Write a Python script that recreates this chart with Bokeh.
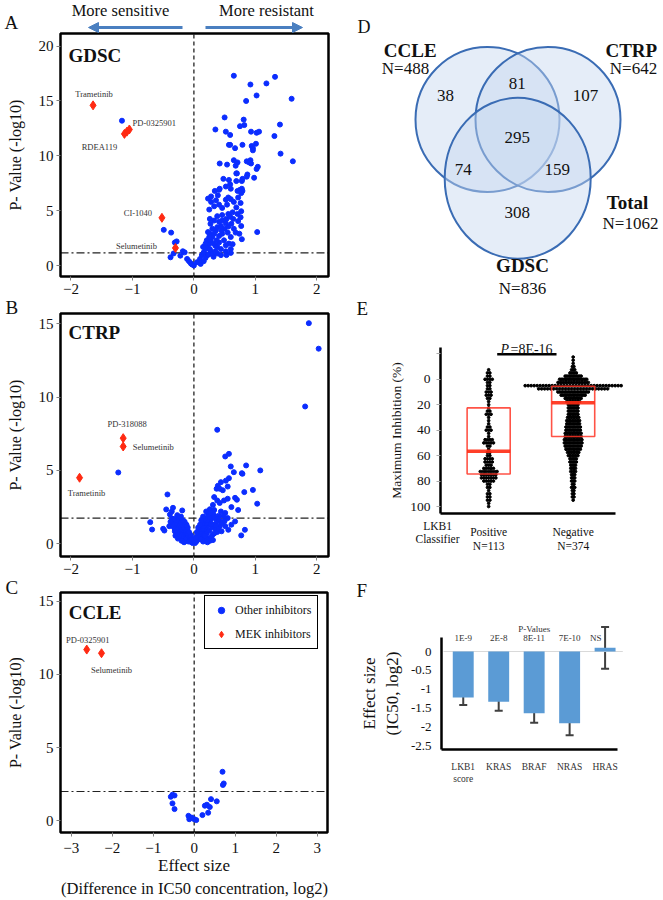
from bokeh.plotting import figure
from bokeh.layouts import row, column
from bokeh.models import (Range1d, Label, Arrow, NormalHead, FixedTicker, Legend, LegendItem,
                          ColumnDataSource, Whisker, TeeHead, PrintfTickFormatter)
from bokeh.core.properties import value
from bokeh.embed import file_html
from bokeh.resources import INLINE

# ------------------------------------------------------------------ data
# Panel A : GDSC volcano (effect size, -log10 p)
gdsc_other_x = [0.65, 1.32, 0.92, 1.18, 1.02, 0.85, 1.59, 0.50, 0.81, 0.75, 0.82, 0.35, 0.52, 0.59, 0.93,
                1.02, 1.06, 1.40, 1.31, 0.57, 0.59, 0.67, 0.79, 0.94, 1.01, 0.96, 0.96, 1.41, 1.61, 0.42,
                0.54, 0.65, 0.71, 0.68, 0.86, 0.92, 0.90, 0.93, 1.04, 1.02, 0.69, 0.70, 0.87, 0.86, 0.98,
                0.48, 0.57, 0.69, 0.78, 0.79, 0.59, 0.52, 0.42, 0.41, 0.34, 0.39, 0.60, 0.75, 0.78, 0.79,
                0.71, 0.28, 0.23, 0.56, 0.72, 0.77,
                -1.17, -0.49, -0.37, -0.31, -0.28, -0.33, -0.38, -0.18, -0.15, -0.22, -0.11, -0.08, -0.05,
                -0.03, 0.00,
                0.05, 0.10, 0.13, 0.16, 0.19, 0.15, 0.22, 0.25, 0.21, 0.27, 0.30, 0.26, 0.33, 0.36, 0.30,
                0.38, 0.44, 0.41, 0.46, 0.33, 0.26, 0.38, 0.46, 0.53, 0.56, 0.63, 0.71, 0.76, 0.72, 0.77,
                0.74, 0.78, 0.55, 0.60, 0.57, 0.63, 0.49, 0.41, 0.35, 0.44, 0.52, 0.60, 0.27, 0.22, 0.32,
                0.38, 1.03, 0.25, 0.33, 0.28, 0.36, 0.41, 0.46, 0.54, 0.52, 0.60, 0.65, 0.76, 0.77, 0.69,
                0.16, 0.11, 0.19, 0.24, 0.30, 0.35, 0.26, 0.38, 0.32, 0.37, 0.41, 0.46, 0.50, 0.45, 0.56,
                0.61, 0.65, 0.68, 0.64, 0.59, 0.52, 0.27, 0.23, 0.25, 0.19, 0.52, 0.44, 0.53, 0.60]
gdsc_other_y = [17.3, 17.2, 16.5, 16.6, 15.5, 15.0, 15.2, 13.5, 13.3, 12.7, 12.8, 12.4, 12.2, 11.9, 12.2,
                12.1, 12.2, 12.85, 11.8, 11.0, 11.0, 10.7, 11.0, 10.9, 11.1, 10.7, 10.5, 10.2, 9.5, 9.3,
                9.2, 9.6, 9.4, 9.1, 9.5, 9.6, 9.4, 9.3, 9.0, 8.8, 8.4, 8.4, 8.3, 8.1, 8.0,
                7.9, 7.8, 7.7, 7.7, 7.9, 7.4, 7.2, 7.0, 6.9, 6.8, 6.4, 7.0, 6.9, 7.0, 6.8,
                6.8, 6.3, 6.1, 6.2, 6.2, 6.6,
                13.2, 3.25, 3.0, 2.1, 2.2, 1.1, 0.75, 1.3, 1.2, 0.9, 0.6, 0.4, 0.2,
                0.1, 0.0,
                0.3, 0.6, 0.95, 1.2, 1.5, 1.7, 1.8, 2.0, 2.3, 2.3, 2.6, 2.9, 2.9, 3.2, 3.35,
                3.5, 3.6, 4.0, 4.1, 4.1, 4.25, 4.5, 4.6, 4.25, 4.7, 4.85, 4.7, 4.4, 4.05, 3.6,
                2.9, 2.4, 3.0, 2.6, 2.0, 1.95, 2.3, 2.1, 1.8, 1.5, 1.3, 1.5, 1.3, 0.95, 0.8,
                1.1, 3.05, 5.1, 5.4, 5.8, 5.95, 5.55, 5.25, 5.55, 6.0, 6.05, 5.8, 5.7, 4.95, 5.3,
                0.4, 0.15, 0.7, 1.0, 1.1, 1.3, 1.5, 1.7, 2.0, 2.3, 2.7, 2.9, 3.35, 3.2, 3.55,
                3.8, 3.35, 3.0, 4.25, 4.45, 3.85, 3.8, 3.05, 2.6, 2.0, 1.85, 0.95, 0.95, 1.15]
gdsc_mek_names = ["Trametinib", "PD-0325901", "", "RDEA119", "CI-1040", "Selumetinib"]
gdsc_mek_x = [-1.64, -1.05, -1.09, -1.13, -0.52, -0.30]
gdsc_mek_y = [14.6, 12.4, 12.2, 12.0, 4.35, 1.6]
gdsc_threshold = 1.15

# Panel B : CTRP volcano
ctrp_other_x = [1.87, 2.03, 1.81, -1.23, 0.38, 0.57, 0.51, 0.85, 0.60, 1.08, 0.65, 0.78, 0.79, 0.57, 0.52,
                0.44, 0.39, 0.37, 0.42, 0.47, 0.55, 0.82, 0.96, 0.33, 0.38, 0.42, 0.49, 0.55, 0.67, 0.70,
                0.61, 0.72, 1.03, 0.31, 0.26, 0.33, 0.44, 0.51, 0.24, 0.30, 0.40,
                -0.43, -0.45, -0.34, -0.19, -0.36, -0.39, -0.27, -0.21, -0.71, -0.68, -0.50, -0.48, -0.40,
                -0.34, -0.31, -0.25, -0.36, 0.83, 0.77, 0.61, 0.56, 0.67, 0.51, 0.44,
                -0.02, -0.04, -0.06, -0.08, -0.10, -0.12, -0.14, -0.16, -0.18, -0.20, -0.22, -0.24, -0.26,
                -0.28, -0.30, -0.07, -0.10, -0.13, -0.16, -0.19, -0.22, -0.12, -0.17, -0.21, -0.25, -0.29,
                -0.33, -0.05, -0.09, -0.15, -0.20, -0.24, -0.27, -0.31, -0.14, -0.11,
                0.02, 0.04, 0.06, 0.08, 0.10, 0.12, 0.14, 0.16, 0.18, 0.20, 0.22, 0.24, 0.26, 0.28, 0.30,
                0.32, 0.07, 0.10, 0.13, 0.16, 0.19, 0.22, 0.25, 0.12, 0.17, 0.21, 0.25, 0.29, 0.33, 0.37,
                0.40, 0.35, 0.30, 0.24, 0.42, 0.46, 0.38, 0.09, 0.14, 0.18, 0.23,
                -0.03, -0.05, -0.08, -0.10, -0.12, -0.15, -0.18, -0.23, -0.28, -0.32, -0.35, -0.38, -0.30,
                -0.26, -0.20, -0.16, 0.03, 0.05, 0.07, 0.10, 0.12, 0.15, 0.20, 0.27, 0.34, 0.36, 0.40,
                0.33, 0.28, 0.20, 0.15, 0.45, 0.50, 0.55, 0.48, 0.28, 0.18, 0.26, 0.31, 0.22]
ctrp_other_y = [15.04, 13.3, 9.36, 4.86, 7.77, 6.13, 5.95, 5.34, 5.27, 5.0, 4.88, 4.81, 4.77, 4.47, 4.3,
                4.2, 3.95, 3.75, 3.75, 3.65, 3.9, 3.52, 3.67, 3.18, 2.95, 2.78, 2.95, 3.07, 3.13, 3.0,
                2.5, 2.3, 2.73, 2.65, 2.35, 2.3, 2.2, 2.1, 2.0, 1.9, 1.9,
                3.36, 2.34, 2.45, 2.27, 2.2, 2.0, 1.95, 1.85, 1.47, 0.97, 1.02, 0.9, 1.2,
                1.45, 1.0, 1.7, 1.7, 0.95, 0.57, 1.3, 0.95, 1.52, 1.2, 1.5,
                0.05, 0.1, 0.2, 0.3, 0.4, 0.5, 0.6, 0.7, 0.8, 0.9, 1.0, 1.1, 1.2,
                1.3, 1.4, 0.5, 0.7, 0.9, 1.1, 1.3, 1.5, 0.2, 0.4, 0.6, 0.8, 1.0,
                1.15, 0.35, 0.15, 0.3, 0.45, 0.55, 0.75, 0.85, 1.3, 1.0,
                0.05, 0.15, 0.25, 0.4, 0.5, 0.6, 0.75, 0.9, 1.0, 1.1, 1.25, 1.4, 1.55, 1.7, 1.85,
                2.0, 0.6, 0.8, 1.0, 1.2, 1.4, 1.6, 1.8, 0.3, 0.5, 0.7, 0.9, 1.1, 1.3, 1.5,
                1.7, 1.0, 0.6, 0.35, 1.2, 1.4, 0.8, 1.0, 1.4, 1.7, 2.0,
                0.3, 0.6, 0.8, 1.1, 1.3, 1.5, 1.6, 1.75, 1.6, 1.7, 1.3, 1.5, 0.55,
                0.35, 0.2, 0.1, 0.45, 0.8, 1.1, 1.3, 1.6, 1.85, 2.2, 2.1, 1.75, 1.25, 1.0,
                0.7, 0.45, 0.3, 0.15, 0.85, 1.55, 1.75, 1.9, 1.35, 0.55, 0.2, 0.25, 0.1]
ctrp_mek_names = ["PD-318088", "Selumetinib", "Trametinib"]
ctrp_mek_x = [-1.15, -1.15, -1.86]
ctrp_mek_y = [7.2, 6.63, 4.5]
ctrp_threshold = 1.75

# Panel C : CCLE volcano
ccle_other_x = [0.69, 0.72, 0.70, -0.57, -0.53, -0.48, -0.53, -0.48, -0.14, -0.12, -0.06, 0.00, 0.05,
                0.20, 0.26, 0.31, 0.34, 0.38, 0.41, 0.55]
ccle_other_y = [3.35, 2.55, 2.45, 1.64, 1.78, 1.73, 1.19, 0.80, 0.34, 0.11, 0.22, 0.11, 0.05,
                0.39, 1.03, 1.10, 0.55, 0.94, 1.48, 1.33]
ccle_mek_names = ["PD-0325901", "Selumetinib"]
ccle_mek_x = [-2.62, -2.26]
ccle_mek_y = [11.7, 11.45]
ccle_threshold = 2.0

# Panel D : Venn diagram
venn_sets = ["CCLE", "CTRP", "GDSC"]
venn_set_n = [488, 642, 836]
venn_region_counts = [38, 81, 107, 295, 74, 159, 308]   # CCLE, CCLE&CTRP, CTRP, all, CCLE&GDSC, CTRP&GDSC, GDSC
venn_total = 1062

# Panel E : maximum inhibition by LKB1 classifier (dot-strip histogram)
e_groups = ["Positive", "Negative"]
e_group_n = [113, 374]
e_pos_levels = [-7.5, -5, -2.5, 0, 2.5, 5, 7.5, 10, 12.5, 15, 17.5, 20, 22.5, 25, 27.5, 30, 32.5, 35,
                37.5, 40, 42.5, 45, 47.5, 50, 52.5, 55, 57.5, 60, 62.5, 65, 67.5, 70, 72.5, 75, 77.5,
                80, 82.5, 85, 87.5, 90, 92.5, 95, 97.5, 100]
e_pos_counts = [1, 2, 2, 4, 2, 2, 2, 3, 3, 2, 1, 1, 1, 2, 3, 1, 1, 1, 2, 3, 1, 1, 4, 5, 2, 1, 2, 2,
                4, 4, 3, 5, 8, 7, 7, 5, 2, 2, 1, 2, 2, 2, 1, 1]
e_neg_levels = [-17.5, -15, -12.5, -10, -7.5, -5, -2.5, 0, 2.5, 5, 7.5, 10, 12.5, 15, 17.5, 20, 22.5,
                25, 27.5, 30, 32.5, 35, 37.5, 40, 42.5, 45, 47.5, 50, 52.5, 55, 57.5, 60, 62.5, 65,
                67.5, 70, 72.5, 75, 77.5, 80, 82.5, 85, 87.5, 90, 92.5, 95]
e_neg_counts = [1, 1, 1, 2, 3, 5, 11, 18, 20, 33, 24, 20, 16, 11, 9, 7, 7, 7, 7, 8, 9, 9, 10, 10, 11,
                11, 12, 12, 11, 10, 8, 7, 5, 5, 4, 4, 4, 3, 3, 3, 2, 3, 2, 2, 2, 1]
e_q1 = [22.5, 5.5]
e_median = [56.5, 18.4]
e_q3 = [74.5, 45.0]
e_pvalue = "=8E-16"

# Panel F : effect sizes of mutation / classifier
f_labels = ["LKB1\nscore", "KRAS", "BRAF", "NRAS", "HRAS"]
f_effect = [-1.22, -1.33, -1.64, -1.90, 0.10]
f_err_low = [-1.42, -1.57, -1.89, -2.22, -0.46]
f_err_high = [-1.02, -1.10, -1.39, -1.60, 0.65]
f_pvalues = ["1E-9", "2E-8", "8E-11", "7E-10", "NS"]

# ------------------------------------------------------------------ styles
SERIF = "Liberation Serif"
BLUE = "#0b2dff"
RED = "#ff2a12"
TXT = "#111111"
LBL = "#333333"
ARROW = "#4a7fc0"


def canvas_fig(width, height, box, dom):
    """Figure whose frame fills the canvas; `box` (l, t, r, b px) holds the data window `dom` (x0, x1, y0, y1)."""
    l, t, r, b = box
    x0, x1, y0, y1 = dom
    kx = (x1 - x0) / (r - l)
    ky = (y1 - y0) / (b - t)
    p = figure(width=width, height=height,
               x_range=Range1d(x0 - l * kx, x1 + (width - r) * kx),
               y_range=Range1d(y0 - (height - b) * ky, y1 + t * ky),
               min_border=0, output_backend="svg", toolbar_location=None)
    p.outline_line_color = None
    p.grid.visible = False
    p.xaxis.fixed_location = y0
    p.yaxis.fixed_location = x0
    p.xaxis.bounds = (min(x0, x1), max(x0, x1))
    p.yaxis.bounds = (min(y0, y1), max(y0, y1))
    for ax in list(p.xaxis) + list(p.yaxis):
        ax.minor_tick_line_color = None
        ax.major_label_text_font = SERIF
        ax.major_label_text_color = TXT
        ax.axis_label_text_font = SERIF
        ax.axis_label_text_font_style = "normal"
        ax.axis_label_text_color = TXT
    return p


def slabel(p, h, cx, cy, text, size="19px", bold=False, italic=False, align="left", baseline="middle"):
    """Label placed in canvas pixels (cx from left, cy from top)."""
    style = "bold" if bold else ("italic" if italic else "normal")
    p.add_layout(Label(x=cx, y=h - cy, x_units="screen", y_units="screen", text=text, text_font=SERIF,
                       text_font_size=size, text_font_style=style, text_color=TXT,
                       text_align=align, text_baseline=baseline))


def dlabel(p, x, y, text, size="19px", bold=False, align="left"):
    p.add_layout(Label(x=x, y=y, text=text, text_font=SERIF, text_font_size=size,
                       text_font_style="bold" if bold else "normal", text_color=TXT,
                       text_align=align, text_baseline="middle"))


def volcano(height, box, dom, xticks, yticks, thr, ox, oy, mx, my, names, dx, dy):
    p = canvas_fig(338, height, box, dom)
    x0, x1, y0, y1 = dom
    p.xaxis.ticker = FixedTicker(ticks=xticks)
    p.yaxis.ticker = FixedTicker(ticks=yticks)
    for ax in list(p.xaxis) + list(p.yaxis):
        ax.axis_line_color = None
        ax.major_tick_line_color = "#808080"
        ax.major_tick_out = 4
        ax.major_tick_in = 0
        ax.major_label_text_font_size = "15px"
        ax.major_label_standoff = 3
    p.yaxis.axis_label = "P- Value (-log10)"
    p.yaxis.axis_label_text_font_size = "16px"
    p.yaxis.axis_label_standoff = 12
    p.segment(x0=[0], x1=[0], y0=[y0], y1=[y1], line_color="#404040", line_dash="4 3", line_width=1.5)
    p.segment(x0=[x0], x1=[x1], y0=[thr], y1=[thr], line_color="#222222", line_dash="8 3 2 3", line_width=1.2)
    rb = p.scatter(ox, oy, marker="circle", size=5, color=BLUE)
    rr = p.scatter(mx, my, marker="diamond", size=9, color=RED)
    p.text(x=mx, y=my, text=names, x_offset=dx, y_offset=dy, text_font=value(SERIF),
           text_font_size="8.5px", text_color=LBL, text_align="center", text_baseline="middle")
    p.quad(left=[x0], right=[x1], bottom=[y0], top=[y1], fill_color=None, line_color="black", line_width=2.5)
    return p, rb, rr


# ------------------------------------------------------------------ panel A
HA = 298
pA, _, _ = volcano(HA, (60, 33, 328, 276), (-2.17, 2.19, -1.0, 21.15), [-2, -1, 0, 1, 2], [0, 5, 10, 15, 20],
                   gdsc_threshold, gdsc_other_x, gdsc_other_y, gdsc_mek_x, gdsc_mek_y, gdsc_mek_names,
                   [1, 25, 0, -25, -24, -39], [-11, -6, 0, 13, -5, -2])
dlabel(pA, -2.04, 19.1, "GDSC", bold=True)
slabel(pA, HA, 4, 22, "A")
slabel(pA, HA, 120, 10, "More sensitive", size="16.5px", align="center")
slabel(pA, HA, 266, 10, "More resistant", size="16.5px", align="center")
for xs, xe in [(182, 88), (205, 302)]:
    pA.add_layout(Arrow(end=NormalHead(size=10, fill_color=ARROW, line_color=ARROW),
                        x_start=xs, y_start=HA - 27, x_end=xe, y_end=HA - 27,
                        start_units="screen", end_units="screen", line_color=ARROW, line_width=3))

# ------------------------------------------------------------------ panel B
HB = 280
pB, _, _ = volcano(HB, (60, 15, 328, 258), (-2.17, 2.19, -0.87, 15.7), [-2, -1, 0, 1, 2], [0, 5, 10, 15],
                   ctrp_threshold, ctrp_other_x, ctrp_other_y, ctrp_mek_x, ctrp_mek_y, ctrp_mek_names,
                   [4, 30, 7], [-14, 0, 15])
dlabel(pB, -2.04, 14.42, "CTRP", bold=True)
slabel(pB, HB, 5, 9, "B")

# ------------------------------------------------------------------ panel C
HC = 321
pC, rb, rr = volcano(HC, (60, 14, 327, 254), (-3.26, 3.25, -0.8, 15.6), [-3, -2, -1, 0, 1, 2, 3],
                     [0, 5, 10, 15], ccle_threshold, ccle_other_x, ccle_other_y, ccle_mek_x, ccle_mek_y,
                     ccle_mek_names, [1, 10], [-10, 17])
dlabel(pC, -3.06, 14.25, "CCLE", bold=True)
slabel(pC, HC, 5, 9, "C")
pC.xaxis.major_label_standoff = 6
pC.xaxis.axis_label = "Effect size"
pC.xaxis.axis_label_text_font_size = "17px"
pC.xaxis.axis_label_standoff = 0
slabel(pC, HC, 194, 310, "(Difference in IC50 concentration, log2)", size="16.5px", align="center")
leg = Legend(items=[LegendItem(label="Other inhibitors", renderers=[rb]),
                    LegendItem(label="MEK inhibitors", renderers=[rr])],
             location=(204, 250), margin=0, padding=6, spacing=8, label_height=16, glyph_height=16,
             glyph_width=20, label_standoff=4, label_text_font=SERIF, label_text_font_size="12px",
             label_text_color=TXT, border_line_color="black", border_line_width=1.2, border_line_alpha=1)
pC.add_layout(leg)

# ------------------------------------------------------------------ panel D (Venn)
pD = figure(width=324, height=298, x_range=Range1d(338, 662), y_range=Range1d(298, 0), min_border=0,
            output_backend="svg", toolbar_location=None)
pD.axis.visible = False
pD.grid.visible = False
pD.outline_line_color = None
venn_cx = [487.0, 547.5, 517.2]
venn_cy = [119.0, 119.0, 177.8]
venn_w = [144.0, 145.0, 146.0]
venn_h = [145.0, 145.0, 161.0]
for i in range(3):
    pD.ellipse(x=[venn_cx[i]], y=[venn_cy[i]], width=[venn_w[i]], height=[venn_h[i]],
               fill_color="#c6d7ef", fill_alpha=0.45, line_color="#3a6cb4", line_width=2)
region_x = [445, 516.7, 585, 516.7, 462.7, 556.7, 516.7]
region_y = [95, 83.3, 95, 136.7, 169.3, 169.3, 211.7]
pD.text(x=region_x, y=region_y, text=[str(c) for c in venn_region_counts], text_font=value(SERIF),
        text_font_size="17px", text_color=TXT, text_align="center", text_baseline="middle")
set_x = [409.7, 630.8, 522]
set_y = [49.7, 50, 265]
n_x = [405, 633, 522]
n_y = [67.5, 67.5, 287.5]
for i in range(3):
    dlabel(pD, set_x[i], set_y[i], venn_sets[i], bold=True, align="center")
    dlabel(pD, n_x[i], n_y[i], "N=%d" % venn_set_n[i], size="17px", align="center")
dlabel(pD, 627, 201.7, "Total", bold=True, align="center")
dlabel(pD, 630, 223, "N=%d" % venn_total, size="17px", align="center")
dlabel(pD, 357, 26, "D", size="18px")

# ------------------------------------------------------------------ panel E
HE = 282
pE = canvas_fig(324, HE, (102, 49, 277, 215), (0.43, 2.501, 105.5, -25))
PX_E = 84.5                 # pixels per x unit
STEP_E = [2.4, 1.6]         # horizontal spacing of stacked dots per group, px
for gi, (levels, counts) in enumerate([(e_pos_levels, e_pos_counts), (e_neg_levels, e_neg_counts)]):
    xs, ys = [], []
    for lv, n in zip(levels, counts):
        step = 3.0 if n > 22 else STEP_E[gi]
        for k in range(n):
            xs.append(gi + 1 + (k - (n - 1) / 2) * step / PX_E)
            ys.append(lv)
    pE.scatter(xs, ys, marker="circle", size=2.7, color="black")
BOX_W = 0.51
gx = [1, 2]
pE.quad(left=[g - BOX_W / 2 for g in gx], right=[g + BOX_W / 2 for g in gx], top=e_q1, bottom=e_q3,
        fill_color=None, line_color="#ff3526", line_width=1.6, line_alpha=0.85)
pE.segment(x0=[g - BOX_W / 2 for g in gx], x1=[g + BOX_W / 2 for g in gx], y0=e_median, y1=e_median,
           line_color="#ff2a12", line_width=3.5, line_alpha=0.9)
pE.segment(x0=[1.101], x1=[1.803], y0=[-19.7], y1=[-19.7], line_color="black", line_width=2.5)
slabel(pE, HE, 162, 51.3, "P", size="14px", italic=True, baseline="alphabetic")
slabel(pE, HE, 172, 51.3, e_pvalue, size="14px", baseline="alphabetic")
pE.yaxis.ticker = FixedTicker(ticks=[-20, 0, 20, 40, 60, 80, 100])
pE.yaxis.major_label_overrides = {-20: ""}
pE.xaxis.ticker = FixedTicker(ticks=gx)
pE.xaxis.major_label_overrides = {1: "%s\nN=%d" % (e_groups[0], e_group_n[0]),
                                  2: "%s\nN=%d" % (e_groups[1], e_group_n[1])}
for ax in list(pE.xaxis) + list(pE.yaxis):
    ax.axis_line_color = "black"
    ax.axis_line_width = 2.5
pE.yaxis.major_tick_line_color = "#aaaaaa"
pE.yaxis.major_tick_out = 4
pE.yaxis.major_tick_in = 0
pE.yaxis.major_label_standoff = 6
pE.yaxis.major_label_text_font_size = "13.5px"
pE.xaxis.major_tick_line_color = None
pE.xaxis.major_label_standoff = 6
pE.xaxis.major_label_text_font_size = "11.5px"
pE.yaxis.axis_label = "Maximum Inhibition (%)"
pE.yaxis.axis_label_text_font_size = "13.5px"
pE.yaxis.axis_label_standoff = 3
slabel(pE, HE, 99, 227, "LKB1", size="11.5px", align="center")
slabel(pE, HE, 99, 240, "Classifier", size="11.5px", align="center")
slabel(pE, HE, 18, 10, "E")

# ------------------------------------------------------------------ panel F
HF = 319
pF = canvas_fig(324, HF, (103, 56.7, 279, 169.3), (0.387, 5.35, -2.607, 0.38))
fx = list(range(1, len(f_labels) + 1))
pF.segment(x0=[0.444], x1=[5.5], y0=[0], y1=[0], line_color="#d9d9d9", line_width=1)
pF.vbar(x=fx, top=f_effect, bottom=0, width=0.59, fill_color="#5b9bd5", line_color=None)
src_f = ColumnDataSource(dict(x=fx, lower=f_err_low, upper=f_err_high))
pF.add_layout(Whisker(source=src_f, base="x", lower="lower", upper="upper", line_color="#404040",
                      line_width=2,
                      upper_head=TeeHead(size=8, line_color="#404040", line_width=2),
                      lower_head=TeeHead(size=8, line_color="#404040", line_width=2)))
pF.text(x=[1, 2, 3, 4, 4.74], y=[0.353] * 5, text=f_pvalues, text_font=value(SERIF), text_font_size="9px",
        text_color=LBL, text_align="center", text_baseline="middle")
pF.text(x=[3], y=[0.602], text=["P-Values"], text_font=value(SERIF), text_font_size="9px",
        text_color=LBL, text_align="center", text_baseline="middle")
pF.yaxis.ticker = FixedTicker(ticks=[0, -0.5, -1, -1.5, -2, -2.5])
pF.yaxis.formatter = PrintfTickFormatter(format="%g")
pF.xaxis.ticker = FixedTicker(ticks=fx)
pF.xaxis.major_label_overrides = {i + 1: lab for i, lab in enumerate(f_labels)}
for ax in list(pF.xaxis) + list(pF.yaxis):
    ax.axis_line_color = "black"
    ax.axis_line_width = 2.5
    ax.major_tick_line_color = None
pF.yaxis.major_label_text_font_size = "13px"
pF.yaxis.major_label_standoff = 4
pF.xaxis.major_label_text_font_size = "9.5px"
pF.xaxis.major_label_text_color = LBL
pF.xaxis.major_label_standoff = 6
pF.yaxis.axis_label = "Effect size\n(IC50, log2)"
pF.yaxis.axis_label_text_font_size = "17px"
pF.yaxis.axis_label_standoff = 6
slabel(pF, HF, 18, 10, "F")

layout = row(column(pA, pB, pC), column(pD, pE, pF))
open("out.html", "w").write(file_html(layout, INLINE))
